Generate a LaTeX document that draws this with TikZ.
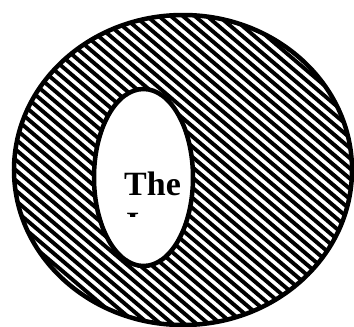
\documentclass[tikz,border=0pt]{standalone}
\usepackage{fontspec}
\setmainfont{Liberation Serif}
\begin{document}
\begin{tikzpicture}[x=1pt,y=-1pt,
  rim/.style={line width=4.5pt,draw=black},
  hatch/.style={line width=3.9pt,black}]
\useasboundingbox (0,0) rectangle (354,327);
\begin{scope}
\clip (0,0) rectangle (354,327);
\begin{scope}[even odd rule]
\clip (183,170) ellipse [x radius=169, y radius=155] (143.5,177.5) ellipse [x radius=49.5, y radius=88.5];
\foreach \c in {-520,-508,...,400} {
  \draw[hatch] (\c,0) -- ({\c+470},400);
}
\end{scope}
\draw[rim] (183,170) ellipse [x radius=169, y radius=155];
\draw[rim] (143.5,177.5) ellipse [x radius=49.5, y radius=88.5];
\node[font=\bfseries\fontsize{34}{40}\selectfont,anchor=base west,inner sep=0] (txt) at (124,195) {The};
\begin{scope}
\clip (120,205) rectangle (170,216.5);
\node[font=\bfseries\fontsize{34}{40}\selectfont,anchor=base west,inner sep=0] (txt2) at (126,235) {I};
\end{scope}
\end{scope}
\end{tikzpicture}
\end{document}
